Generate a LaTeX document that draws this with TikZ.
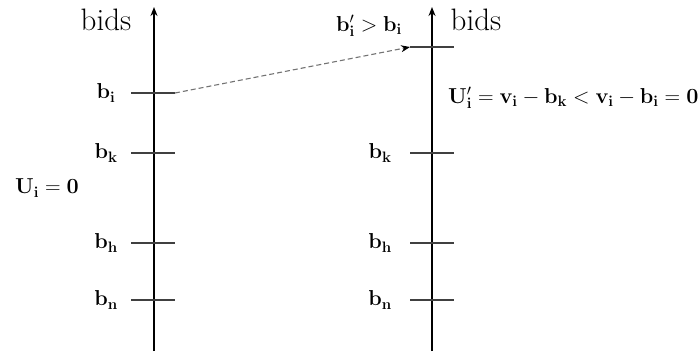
\RequirePackage{fix-cm}
\documentclass[tikz,border=0pt]{standalone}
\usetikzlibrary{arrows.meta}
\begin{document}
\begin{tikzpicture}[x=1pt,y=-1pt,
  axis/.style={line width=1.8pt,-{Stealth[length=9pt,width=7pt]}},
  tick/.style={line width=1.4pt,draw=black!75},
  lbl/.style={inner sep=0pt,font=\fontsize{21.6}{26}\selectfont},
  big/.style={inner sep=0pt,font=\fontsize{31}{36}\selectfont}]
\useasboundingbox (0,0) rectangle (700,351);
% left axis
\coordinate (La) at (154,351);
\coordinate (Lb) at (154,7);
\draw[axis] (La) -- (Lb);
\node[big] (bidsL) at (106,20) {bids};
\foreach \y/\n in {93/i,153/k,243/h,300/n}{
  \coordinate (L\n1) at (131,\y);
  \coordinate (L\n2) at (175,\y);
  \draw[tick] (L\n1) -- (L\n2);
  \node[lbl] (lb\n) at (106,\y) {$\mathbf{b}_{\mathbf{\n}}$};
}
\node[lbl] (Ui) at (47,188) {$\mathbf{U}_{\mathbf{i}}=\mathbf{0}$};
% right axis
\coordinate (Ra) at (432,351);
\coordinate (Rb) at (432,7);
\draw[axis] (Ra) -- (Rb);
\node[big] (bidsR) at (476,20) {bids};
\foreach \y/\n in {153/k,243/h,300/n}{
  \coordinate (R\n1) at (410,\y);
  \coordinate (R\n2) at (454,\y);
  \draw[tick] (R\n1) -- (R\n2);
  \node[lbl] (rb\n) at (380,\y) {$\mathbf{b}_{\mathbf{\n}}$};
}
\coordinate (Rp1) at (410,47);
\coordinate (Rp2) at (454,47);
\draw[tick] (Rp1) -- (Rp2);
\node[lbl] (bp) at (369,26) {$\mathbf{b}'_{\mathbf{i}}>\mathbf{b}_{\mathbf{i}}$};
\node[lbl,anchor=west] (Up) at (448,98) {$\mathbf{U}'_{\mathbf{i}}=\mathbf{v}_{\mathbf{i}}-\mathbf{b}_{\mathbf{k}}<\mathbf{v}_{\mathbf{i}}-\mathbf{b}_{\mathbf{i}}=\mathbf{0}$};
% dashed move
\draw[line width=1.1pt,draw=black!55,dash pattern=on 5pt off 3pt,-{Stealth[length=9pt,width=7pt,color=black]}] (Li2) -- (Rp1);
\end{tikzpicture}
\end{document}
